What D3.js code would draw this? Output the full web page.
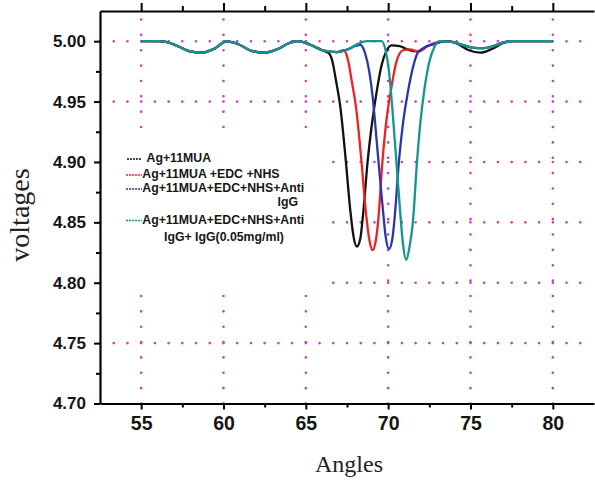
<!DOCTYPE html>
<html><head><meta charset="utf-8">
<script src="https://cdn.jsdelivr.net/npm/d3@7"></script>
<style>html,body{margin:0;padding:0;background:#fff;}svg{display:block;}</style>
</head><body>
<svg id="chart" width="595" height="482"></svg>
<script>
// ---- data ----
const xMajorTicks = [55, 60, 65, 70, 75, 80];
const xMinorTicks = [57.5, 62.5, 67.5, 72.5, 77.5];
const yMajorTicks = [4.70, 4.75, 4.80, 4.85, 4.90, 4.95, 5.00];
const yMinorTicks = [4.725, 4.775, 4.825, 4.875, 4.925, 4.975];

const blackAngles = [55, 56, 56.5, 57.2, 58, 58.7, 59.4, 60.2, 60.9, 61.7, 62.5, 63.3, 64.0, 64.5, 65.2, 66.0, 66.4, 66.6, 66.85, 67.1, 67.4, 67.7, 67.9, 68.1, 68.3, 68.5, 68.75, 69.0, 69.3, 69.6, 69.9, 70.2, 70.7, 71.2, 71.8, 72.4, 73.0, 73.6, 74.2, 74.9, 75.6, 76.3, 77.0, 77.5, 80];
const blackValues = [5.000, 5.000, 4.9995, 4.9960, 4.9915, 4.9905, 4.9935, 4.9998, 4.9975, 4.9920, 4.9905, 4.9935, 4.9985, 5.000, 4.9975, 4.9925, 4.9900, 4.9840, 4.9660, 4.9450, 4.9050, 4.8600, 4.8380, 4.8300, 4.8360, 4.8600, 4.9000, 4.9300, 4.9580, 4.9800, 4.9920, 4.9965, 4.9960, 4.9930, 4.9915, 4.9960, 4.9990, 5.000, 4.9980, 4.9925, 4.9905, 4.9935, 4.9985, 5.000, 5.000];

const redAngles = [55, 56, 56.5, 57.2, 58, 58.7, 59.4, 60.2, 60.9, 61.7, 62.5, 63.3, 64.0, 64.5, 65.2, 66.0, 66.9, 67.3, 67.55, 67.8, 68.05, 68.35, 68.65, 68.85, 69.05, 69.25, 69.4, 69.65, 69.9, 70.2, 70.5, 70.9, 71.3, 71.8, 72.4, 73.0, 73.6, 74.5, 75.2, 75.8, 76.4, 77.0, 77.5, 80];
const redValues = [5.000, 5.000, 4.9995, 4.9960, 4.9915, 4.9905, 4.9935, 4.9998, 4.9975, 4.9920, 4.9905, 4.9935, 4.9985, 5.000, 4.9975, 4.9925, 4.9910, 4.9925, 4.9850, 4.9660, 4.9450, 4.9050, 4.8580, 4.8360, 4.8270, 4.8350, 4.8520, 4.9000, 4.9350, 4.9620, 4.9830, 4.9925, 4.9932, 4.9915, 4.9960, 4.9990, 5.000, 4.9970, 4.9945, 4.9942, 4.9960, 4.9990, 5.000, 5.000];

const blueAngles = [55, 56, 56.5, 57.2, 58, 58.7, 59.4, 60.2, 60.9, 61.7, 62.5, 63.3, 64.0, 64.5, 65.2, 66.0, 66.9, 67.6, 68.0, 68.3, 68.6, 68.85, 69.05, 69.35, 69.65, 69.85, 70.05, 70.25, 70.4, 70.65, 70.9, 71.2, 71.5, 71.8, 72.3, 72.9, 73.5, 74.5, 75.2, 75.8, 76.4, 77.0, 77.5, 80];
const blueValues = [5.000, 5.000, 4.9995, 4.9960, 4.9915, 4.9905, 4.9935, 4.9998, 4.9975, 4.9920, 4.9905, 4.9935, 4.9985, 5.000, 4.9975, 4.9925, 4.9910, 4.9935, 4.9960, 4.9970, 4.9900, 4.9750, 4.9550, 4.9100, 4.8650, 4.8380, 4.8280, 4.8360, 4.8550, 4.9000, 4.9320, 4.9580, 4.9780, 4.9905, 4.9955, 4.9980, 5.000, 4.9970, 4.9945, 4.9942, 4.9960, 4.9990, 5.000, 5.000];

const tealAngles = [55, 56, 56.5, 57.2, 58, 58.7, 59.4, 60.2, 60.9, 61.7, 62.5, 63.3, 64.0, 64.5, 65.2, 66.0, 66.9, 67.6, 68.2, 68.7, 69.6, 69.85, 70.05, 70.25, 70.5, 70.75, 70.9, 71.1, 71.3, 71.5, 71.75, 71.95, 72.2, 72.5, 72.8, 73.1, 73.8, 74.5, 75.2, 75.8, 76.4, 77.0, 77.5, 80];
const tealValues = [5.000, 5.000, 4.9995, 4.9960, 4.9915, 4.9905, 4.9935, 4.9998, 4.9975, 4.9920, 4.9905, 4.9935, 4.9985, 5.000, 4.9975, 4.9925, 4.9910, 4.9935, 4.9980, 5.000, 5.000, 4.9920, 4.9750, 4.9450, 4.9000, 4.8550, 4.8320, 4.8190, 4.8300, 4.8500, 4.9000, 4.9320, 4.9600, 4.9830, 4.9950, 5.000, 4.9995, 4.9970, 4.9945, 4.9942, 4.9960, 4.9990, 5.000, 5.000];

const seriesNames = ["Ag+11MUA", "Ag+11MUA +EDC +NHS", "Ag+11MUA+EDC+NHS+Anti", "Ag+11MUA+EDC+NHS+Anti"];
const seriesColors = ["#111111", "#ee2222", "#2b35b0", "#14968a"];
// ---- end data ----

const series = [
  {angles: blackAngles, values: blackValues},
  {angles: redAngles, values: redValues},
  {angles: blueAngles, values: blueValues},
  {angles: tealAngles, values: tealValues}
];

const svg = d3.select("#chart");
const xs = d3.scaleLinear().domain([52.5, 82.5]).range([100, 594]);
const ys = d3.scaleLinear().domain([4.70, 5.025]).range([403.5, 11]);
const GRID = "#c83cc8";

// grid (dotted)
const gGrid = svg.append("g");
const hStep = xs(52.5 + 5/6) - xs(52.5);
yMajorTicks.filter(v => v > 4.70).forEach(v => {
  gGrid.append("line")
    .attr("x1", xs(52.5)).attr("x2", xs(82.5))
    .attr("y1", ys(v)).attr("y2", ys(v))
    .attr("stroke", GRID).attr("stroke-width", 2.6)
    .attr("stroke-linecap", "round")
    .attr("stroke-dasharray", `0.01 ${hStep - 0.01}`);
});
xMajorTicks.forEach(v => {
  gGrid.append("line")
    .attr("x1", xs(v)).attr("x2", xs(v))
    .attr("y1", ys(4.70)).attr("y2", ys(5.025) + 6)
    .attr("stroke", GRID).attr("stroke-width", 2.6)
    .attr("stroke-linecap", "round")
    .attr("stroke-dasharray", `0.01 15.35`);
});

// legend background hides grid
svg.append("rect").attr("x", 103).attr("y", 128).attr("width", 226).attr("height", 164).attr("fill", "#fff");

// curves
const line = d3.line().x(d => xs(d[0])).y(d => ys(d[1])).curve(d3.curveMonotoneX);
series.forEach((s, i) => {
  const pts = s.angles.map((a, j) => [a, s.values[j]]);
  svg.append("path").datum(pts)
    .attr("d", line).attr("fill", "none")
    .attr("stroke", seriesColors[i]).attr("stroke-width", 2.3)
    .attr("stroke-linejoin", "round");
});

// axes
function styleAxis(g) {
  g.select(".domain").attr("stroke", "#000").attr("stroke-width", 2.2);
  g.selectAll(".tick line").attr("stroke", "#000").attr("stroke-width", 2);
}
const fontSans = "'Liberation Sans', Arial, sans-serif";

const gL = svg.append("g").attr("transform", `translate(${xs(52.5)},0)`)
  .call(d3.axisLeft(ys).tickValues(yMajorTicks).tickSize(6).tickSizeOuter(0).tickPadding(8).tickFormat(d3.format(".2f")));
styleAxis(gL);
gL.selectAll(".tick text").attr("font-family", fontSans).attr("font-size", 17).attr("font-weight", "bold").attr("fill", "#151515");
const gLm = svg.append("g").attr("transform", `translate(${xs(52.5)},0)`)
  .call(d3.axisLeft(ys).tickValues(yMinorTicks).tickSize(4).tickSizeOuter(0).tickFormat(""));
styleAxis(gLm); gLm.select(".domain").remove();

const gB = svg.append("g").attr("transform", `translate(0,${ys(4.70)})`)
  .call(d3.axisBottom(xs).tickValues(xMajorTicks).tickSize(6).tickSizeOuter(0).tickPadding(7).tickFormat(d3.format("d")));
styleAxis(gB);
gB.selectAll(".tick text").attr("font-family", fontSans).attr("font-size", 19.5).attr("font-weight", "bold").attr("fill", "#151515");
const gBm = svg.append("g").attr("transform", `translate(0,${ys(4.70)})`)
  .call(d3.axisBottom(xs).tickValues(xMinorTicks).tickSize(4).tickSizeOuter(0).tickFormat(""));
styleAxis(gBm); gBm.select(".domain").remove();

const gT = svg.append("g").attr("transform", `translate(0,${ys(5.025)})`)
  .call(d3.axisTop(xs).tickValues(xMajorTicks).tickSize(8).tickSizeOuter(0).tickFormat(""));
styleAxis(gT);
const gTm = svg.append("g").attr("transform", `translate(0,${ys(5.025)})`)
  .call(d3.axisTop(xs).tickValues(xMinorTicks).tickSize(5).tickSizeOuter(0).tickFormat(""));
styleAxis(gTm); gTm.select(".domain").remove();

// axis titles
svg.append("text").attr("x", 349).attr("y", 472).attr("text-anchor", "middle")
  .attr("font-family", "'Liberation Serif', 'Times New Roman', serif").attr("font-size", 24).attr("fill", "#222").text("Angles");
svg.append("text").attr("transform", "translate(29,215) rotate(-90)").attr("text-anchor", "middle")
  .attr("font-family", "'Liberation Serif', 'Times New Roman', serif").attr("font-size", 28).attr("fill", "#222").text("voltages");

// legend
const gLeg = svg.append("g").attr("font-family", fontSans).attr("font-size", 12.3).attr("font-weight", "bold").attr("fill", "#161616");
const legRows = [
  {lx1: 127, lx2: 141, ly: 159, tx: 146.5, ty: 162.3},
  {lx1: 126, lx2: 142, ly: 175, tx: 142.3, ty: 178.3},
  {lx1: 126, lx2: 142, ly: 189, tx: 142.3, ty: 192.3},
  {lx1: 126, lx2: 142, ly: 220.5, tx: 142.3, ty: 224}
];
legRows.forEach((r, i) => {
  gLeg.append("line").attr("x1", r.lx1).attr("x2", r.lx2).attr("y1", r.ly).attr("y2", r.ly)
    .attr("stroke", seriesColors[i]).attr("stroke-width", 1.4).attr("stroke-dasharray", "2 1");
  gLeg.append("text").attr("x", r.tx).attr("y", r.ty).text(seriesNames[i]);
});
gLeg.append("text").attr("x", 298).attr("y", 205.7).attr("text-anchor", "end").text("IgG");
gLeg.append("text").attr("x", 164).attr("y", 240.7).text("IgG+ IgG(0.05mg/ml)");
</script>
</body></html>
